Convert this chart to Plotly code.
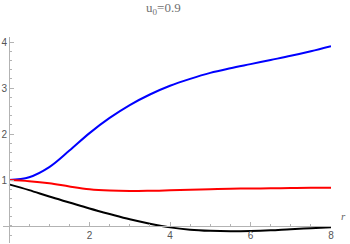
import plotly.graph_objects as go

r = [0, 0.5, 1, 1.5, 2, 2.5, 3, 3.5, 4, 4.5, 5, 5.5, 6, 6.5, 7, 7.5, 8]
blue = [1.00, 1.06, 1.28, 1.64, 2.02, 2.35, 2.63, 2.86, 3.05, 3.20, 3.33, 3.43, 3.52, 3.61, 3.70, 3.80, 3.91]
red = [1.00, 0.975, 0.93, 0.86, 0.80, 0.77, 0.76, 0.765, 0.775, 0.79, 0.80, 0.81, 0.815, 0.82, 0.825, 0.83, 0.833]
black = [0.905, 0.78, 0.64, 0.51, 0.38, 0.26, 0.145, 0.05, -0.03, -0.08, -0.105, -0.115, -0.11, -0.095, -0.07, -0.05, -0.03]
x_ticks = [2, 4, 6, 8]
y_ticks = [1, 2, 3, 4]
title = "u<sub>0</sub>=0.9"
x_label = "r"

xr = [-0.15, 8]
yr = [-0.37, 4.11]

fig = go.Figure()
for ys, c in [(blue, "#0000ff"), (red, "#ff0000"), (black, "#000000")]:
    fig.add_trace(go.Scatter(x=r, y=ys, mode="lines", line=dict(color=c, width=2, shape="spline", smoothing=1.0),
                             cliponaxis=False, showlegend=False, hoverinfo="skip"))

axcol = "#b3b3b3"
fig.update_layout(
    width=350, height=244,
    margin=dict(l=3, r=19, t=37, b=1),
    paper_bgcolor="white", plot_bgcolor="white",
    xaxis=dict(range=xr, showgrid=False, zeroline=False, showline=True, linecolor=axcol, linewidth=1,
               anchor="free", position=(0 - yr[0]) / (yr[1] - yr[0]),
               tickvals=x_ticks, ticks="inside", ticklen=4, tickcolor=axcol,
               tickfont=dict(family="Liberation Sans", size=10, color="#555555"),
               minor=dict(dtick=0.5, tick0=0, ticks="inside", ticklen=2, tickcolor=axcol),
               automargin=False),
    yaxis=dict(range=yr, showgrid=False, zeroline=False, showline=True, linecolor=axcol, linewidth=1,
               anchor="free", position=(0 - xr[0]) / (xr[1] - xr[0]),
               tickvals=y_ticks, ticks="inside", ticklen=4, tickcolor=axcol,
               tickfont=dict(family="Liberation Sans", size=10, color="#555555"),
               minor=dict(dtick=0.2, tick0=0, ticks="inside", ticklen=2, tickcolor=axcol),
               automargin=False),
    annotations=[
        dict(text=title, x=0.49, y=1, xref="paper", yref="paper", yanchor="bottom", yshift=18,
             showarrow=False, font=dict(family="Liberation Serif", size=13, color="#707070")),
        dict(text="<i>" + x_label + "</i>", x=8, y=0, xref="x", yref="y", xanchor="left", yanchor="bottom",
             xshift=8, yshift=2, showarrow=False,
             font=dict(family="Liberation Serif", size=11, color="#666666")),
    ],
)
fig.write_html("out.html", config={"displayModeBar": False},
               post_script="document.body.style.margin='0';")
